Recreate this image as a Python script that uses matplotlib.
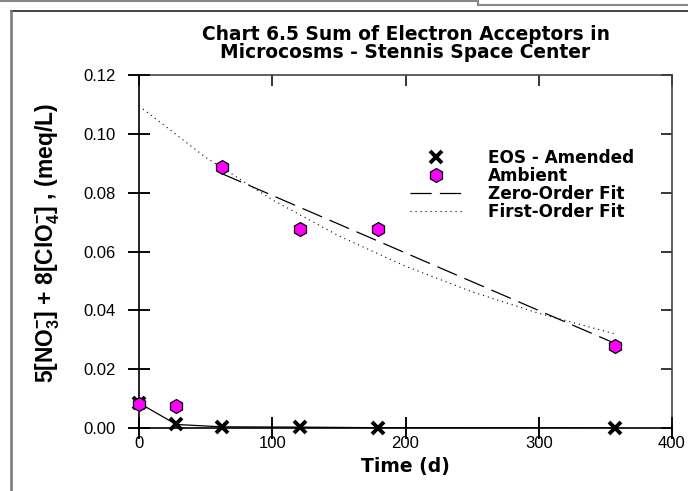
import matplotlib
matplotlib.use("Agg")
import matplotlib.pyplot as plt
from matplotlib.lines import Line2D, TICKLEFT, TICKDOWN
from matplotlib.ticker import FormatStrFormatter

plt.rcParams['font.family'] = ['Liberation Sans', 'DejaVu Sans']
plt.rcParams['mathtext.fontset'] = 'custom'
plt.rcParams['mathtext.rm'] = 'Liberation Sans:bold'
plt.rcParams['mathtext.bf'] = 'Liberation Sans:bold'

# sampling days
days = [0, 28, 62, 121, 179, 357]
eos_amended = [0.0085, 0.0012, 0.0004, 0.0003, 0.0001, 0.0000]
ambient = [0.0083, 0.0075, 0.0888, 0.0675, 0.0678, 0.0280]

# fitted curves
zero_days = [62, 357]
zero_fit = [0.0865, 0.0288]
first_days = [0, 50, 100, 150, 200, 250, 300, 357]
first_fit = [0.1095, 0.0920, 0.0776, 0.0653, 0.0550, 0.0463, 0.0390, 0.0320]

x_ticks = [0, 100, 200, 300, 400]
y_ticks = [0, 0.02, 0.04, 0.06, 0.08, 0.10, 0.12]

BOLD = {'family': 'DejaVu Sans', 'weight': 'bold'}
DASH = (0, (17, 6.5))
DOT = (0, (1, 3.5))

fig = plt.figure(figsize=(6.88, 4.91), dpi=100)
ax = fig.add_axes([139/688, 1 - 428/491, 533/688, 353/491])

ax.plot(first_days, first_fit, color='black', lw=0.8, ls=DOT, zorder=2)
ax.plot(zero_days, zero_fit, color='black', lw=0.9, ls=DASH, zorder=2)
ax.plot(days, eos_amended, color='black', lw=0.9, zorder=3)
ax.plot(days, eos_amended, ls='none', marker='x', ms=9, mew=2.8,
        color='black', zorder=4, clip_on=False)
ax.plot(days, ambient, ls='none', marker='h', ms=10, mfc='#ff00ff',
        mec='black', mew=0.9, zorder=5, clip_on=False)

ax.set_xlim(0, 400)
ax.set_ylim(0, 0.12)
ax.set_xticks(x_ticks)
ax.set_yticks(y_ticks)
ax.yaxis.set_major_formatter(FormatStrFormatter('%.2f'))
ax.tick_params(axis='both', direction='inout', length=16, width=1.1,
               labelsize=12, pad=8.5)
ax.tick_params(axis='x', pad=-2)
ax.tick_params(right=True, top=True)
for s in ['left', 'bottom']:
    ax.spines[s].set_linewidth(1.2)
for s in ['top', 'right']:
    ax.spines[s].set_linewidth(1.2)
    ax.spines[s].set_color('#444444')

# crossing tick marks on the left and bottom axes
ax.vlines(x_ticks, -0.031, 0.031, transform=ax.get_xaxis_transform(),
          colors='black', lw=1.1, clip_on=False, zorder=6)
ax.hlines(y_ticks, -0.0206, 0.0206, transform=ax.get_yaxis_transform(),
          colors='black', lw=1.1, clip_on=False, zorder=6)

ax.set_xlabel('Time (d)', fontdict=BOLD, fontsize=13.5, labelpad=4)
ax.set_ylabel(r'5[NO$_\mathbf{3}^{\mathbf{-}}$] + 8[ClO$_\mathbf{4}^{\mathbf{-}}$] , (meq/L)',
              fontsize=16.5, fontweight='bold')
ax.yaxis.set_label_coords(-0.145, 0.525)
ax.set_title('Chart 6.5 Sum of Electron Acceptors in\nMicrocosms - Stennis Space Center',
             fontdict=BOLD, fontsize=13.4, pad=12, linespacing=0.95)

handles = [
    Line2D([], [], ls='none', marker='x', ms=9, mew=2.8, color='black'),
    Line2D([], [], ls='none', marker='h', ms=10, mfc='#ff00ff', mec='black', mew=0.9),
    Line2D([], [], color='black', lw=0.9, ls=DASH),
    Line2D([], [], color='black', lw=0.8, ls=DOT),
]
labels = ['EOS - Amended', 'Ambient', 'Zero-Order Fit', 'First-Order Fit']
ax.legend(handles, labels, loc='upper left',
          bbox_to_anchor=(410/688, 1 - 149/491), bbox_transform=fig.transFigure,
          frameon=False, prop={'family': 'DejaVu Sans', 'weight': 'bold', 'size': 12.2},
          handlelength=3.1, labelspacing=0.0, handletextpad=1.5,
          borderpad=0, borderaxespad=0)

# screenshot frame around the chart
fig.add_artist(Line2D([0, 478/688], [1 - 1/491, 1 - 1/491], color='#888888', lw=1.5))
fig.add_artist(Line2D([478/688, 478/688], [1, 1 - 5/491], color='#888888', lw=1.5))
fig.add_artist(Line2D([478/688, 1], [1 - 5/491, 1 - 5/491], color='#888888', lw=1.5))
fig.add_artist(Line2D([10.5/688, 1], [1 - 10.5/491, 1 - 10.5/491], color='#222222', lw=1.2))
fig.add_artist(Line2D([10.5/688, 10.5/688], [1 - 10.5/491, 0], color='#777777', lw=1.8))

# top and right ticks point inward only
fig.canvas.draw()
for t in ax.yaxis.get_major_ticks():
    t.tick2line.set_marker(TICKLEFT)
    t.tick2line.set_markersize(8)
for t in ax.xaxis.get_major_ticks():
    t.tick2line.set_marker(TICKDOWN)
    t.tick2line.set_markersize(8)

fig.savefig('out.png', dpi=100)
